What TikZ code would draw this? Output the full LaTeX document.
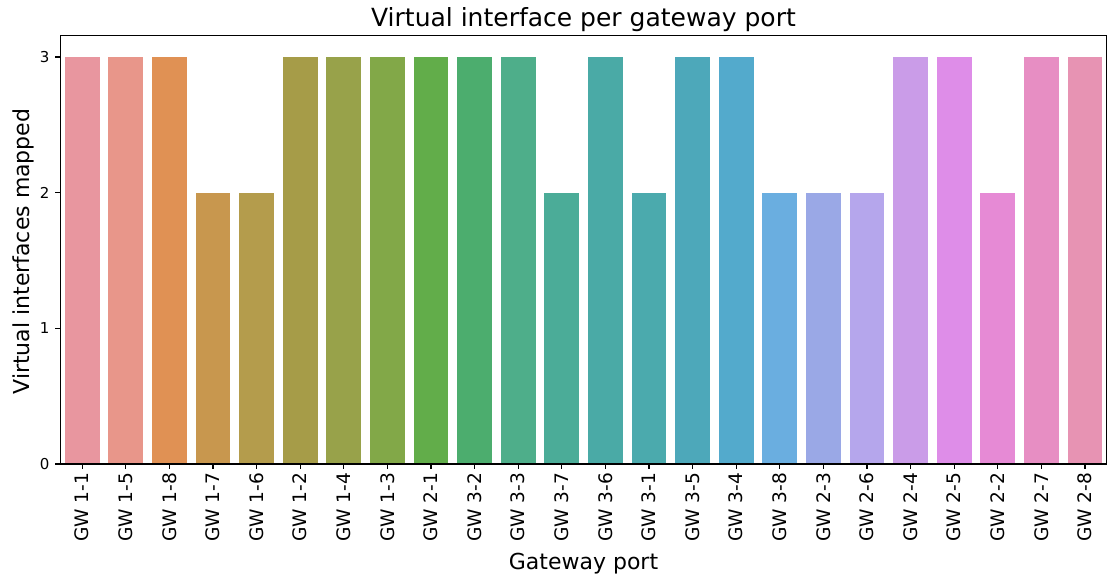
\documentclass[tikz,border=0pt]{standalone}
\usepackage{fontspec}
\setmainfont{DejaVu Sans}
% bar colours, left to right
\definecolor{c0}{HTML}{E8969F}
\definecolor{c1}{HTML}{E8968A}
\definecolor{c2}{HTML}{E09154}
\definecolor{c3}{HTML}{C8974E}
\definecolor{c4}{HTML}{B49C4C}
\definecolor{c5}{HTML}{A69C48}
\definecolor{c6}{HTML}{98A24A}
\definecolor{c7}{HTML}{82A848}
\definecolor{c8}{HTML}{62AD4A}
\definecolor{c9}{HTML}{4CAD6E}
\definecolor{c10}{HTML}{4EAE8A}
\definecolor{c11}{HTML}{4BAC98}
\definecolor{c12}{HTML}{4AAAA6}
\definecolor{c13}{HTML}{4BAAAD}
\definecolor{c14}{HTML}{4DA8BA}
\definecolor{c15}{HTML}{53AACC}
\definecolor{c16}{HTML}{6AAEE0}
\definecolor{c17}{HTML}{9AA8E6}
\definecolor{c18}{HTML}{B5A6EC}
\definecolor{c19}{HTML}{CA9CE8}
\definecolor{c20}{HTML}{DE8DE8}
\definecolor{c21}{HTML}{E68AD5}
\definecolor{c22}{HTML}{E78EC3}
\definecolor{c23}{HTML}{E793B3}
\begin{document}
\begin{tikzpicture}[x=1bp,y=-1bp,
  spine/.style={line width=1.1bp, black},
  tickmark/.style={line width=1.1bp, black},
  xtick/.style={rotate=90, anchor=east, inner sep=0pt, font=\fontsize{18.6bp}{20bp}\selectfont},
  ytick/.style={anchor=east, inner sep=0pt, font=\fontsize{15bp}{16bp}\selectfont},
  axlabel/.style={inner sep=0pt, font=\fontsize{22bp}{24bp}\selectfont},
  titlestyle/.style={inner sep=0pt, anchor=base, font=\fontsize{25bp}{27bp}\selectfont},
]
\useasboundingbox[fill=white] (0,0) rectangle (1107,576);

% axes frame corners
\coordinate (ll) at (60.4,464);
\coordinate (lr) at (1106.6,464);
\coordinate (ul) at (60.4,35.5);
\coordinate (ur) at (1106.6,35.5);

% bars with their ticks and labels
\foreach \lab/\val [count=\i from 0] in {1-1/3,1-5/3,1-8/3,1-7/2,1-6/2,1-2/3,1-4/3,1-3/3,2-1/3,3-2/3,3-3/3,3-7/2,3-6/3,3-1/2,3-5/3,3-4/3,3-8/2,2-3/2,2-6/2,2-4/3,2-5/3,2-2/2,2-7/3,2-8/3} {
  \pgfmathsetmacro\cx{60.4+43.6*(\i+0.5)}
  \pgfmathsetmacro\top{464-135.67*\val}
  \fill[c\i] (\cx-17.45,464) rectangle (\cx+17.45,\top);
  \coordinate (xt\i) at (\cx,464);
  \coordinate (xb\i) at (\cx,469);
  \draw[tickmark] (xt\i) -- (xb\i);
  \node[xtick] (xl\i) at (\cx,472.5) {GW \lab};
}

% y ticks
\foreach \v in {0,1,2,3} {
  \pgfmathsetmacro\py{464-135.67*\v}
  \coordinate (yt\v) at (60.4,\py);
  \coordinate (yb\v) at (55.2,\py);
  \draw[tickmark] (yt\v) -- (yb\v);
  \node[ytick] (yl\v) at (49.5,\py) {\v};
}

% spines
\draw[spine] (ul) -- (ll) -- (lr) -- (ur) -- cycle;

% titles
\node[titlestyle] (title) at (583.5,27) {Virtual interface per gateway port};
\node[axlabel, anchor=base] (xlabel) at (583.5,569) {Gateway port};
\node[axlabel, rotate=90] (ylabel) at (23,251.5) {Virtual interfaces mapped};
\end{tikzpicture}
\end{document}
